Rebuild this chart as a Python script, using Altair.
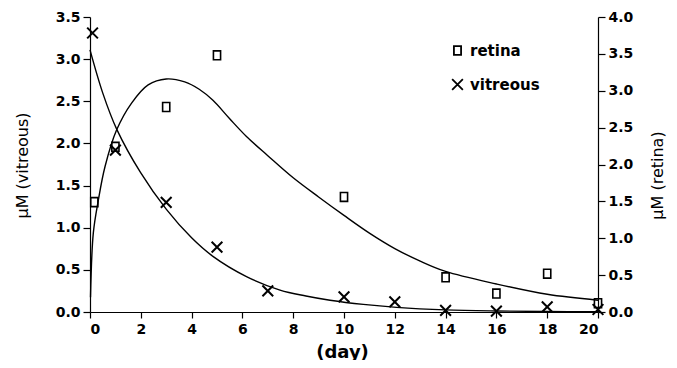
import altair as alt
import pandas as pd

# measured points
vit_days = [0.1, 1, 3, 5, 7, 10, 12, 14, 16, 18, 20]
vit_vals = [3.31, 1.92, 1.30, 0.77, 0.25, 0.18, 0.12, 0.02, 0.01, 0.06, 0.03]

ret_days = [0.17, 1, 3, 5, 10, 14, 16, 18, 20]
ret_vals = [1.49, 2.24, 2.78, 3.48, 1.56, 0.47, 0.25, 0.52, 0.12]

# fitted curves
vit_curve_days = [0, 0.5, 1.05, 2.0, 3.0, 4.0, 4.84, 6.16, 7.48, 8.5, 9.45, 10.76, 12.07, 14, 16, 18, 20]
vit_curve_vals = [3.11, 2.60, 2.17, 1.65, 1.22, 0.88, 0.66, 0.42, 0.26, 0.19, 0.14, 0.09, 0.055, 0.025, 0.012, 0.006, 0.003]

ret_curve_days = [0.02, 0.13, 0.33, 0.59, 1.05, 1.63, 2.29, 3.0, 3.73, 4.3, 4.84, 5.5, 6.16, 7, 8, 9, 10, 11, 12, 13, 14, 16, 18, 20]
ret_curve_vals = [0.2, 1.07, 1.52, 1.97, 2.47, 2.83, 3.08, 3.16, 3.12, 3.02, 2.87, 2.62, 2.38, 2.12, 1.82, 1.56, 1.31, 1.07, 0.86, 0.69, 0.55, 0.38, 0.24, 0.16]

x_ticks = list(range(0, 21, 2))
left_ticks = [0, 0.5, 1.0, 1.5, 2.0, 2.5, 3.0, 3.5]
right_ticks = [0, 0.5, 1.0, 1.5, 2.0, 2.5, 3.0, 3.5, 4.0]
series_names = ["retina", "vitreous"]

FONT = "DejaVu Sans"
SQ = "M-0.8,-1H0.8V1H-0.8Z"
XS = "M-1.2,-1.2L1.2,1.2M-1.2,1.2L1.2,-1.2"

vit_pts = pd.DataFrame({"day": vit_days, "val": vit_vals, "series": "vitreous"})
ret_pts = pd.DataFrame({"day": ret_days, "val": ret_vals, "series": "retina"})
vit_cur = pd.DataFrame({"day": vit_curve_days, "val": vit_curve_vals})
ret_cur = pd.DataFrame({"day": ret_curve_days, "val": ret_curve_vals})

xenc = alt.X("day:Q", scale=alt.Scale(domain=[0, 20], nice=False),
             axis=alt.Axis(values=x_ticks, title="(day)", titleFontWeight="bold",
                           titleFontSize=18, titleX=252, titleY=40, titleBaseline="middle",
                           tickSize=6, labelPadding=4))

y_left = alt.Y("val:Q", scale=alt.Scale(domain=[0, 3.5], nice=False),
               axis=alt.Axis(values=left_ticks, format=".1f", title="μM (vitreous)",
                             orient="left", titleX=-68, titleY=148, titleBaseline="middle",
                             titleAngle=-90))
y_right = alt.Y("val:Q", scale=alt.Scale(domain=[0, 4.0], nice=False),
                axis=alt.Axis(values=right_ticks, format=".1f", title="μM (retina)",
                              orient="right", titleX=59, titleY=158, titleBaseline="middle",
                              titleAngle=-90))

shape_enc = alt.Shape("series:N",
                      scale=alt.Scale(domain=series_names, range=[SQ, XS]),
                      legend=alt.Legend(title=None, orient="none", legendX=360, legendY=26,
                                        symbolSize=80, symbolStrokeWidth=1.8,
                                        symbolStrokeColor="black", symbolFillColor="white",
                                        labelFont=FONT, labelFontSize=15, labelFontWeight="bold",
                                        labelColor="black", labelOffset=5, rowPadding=16,
                                        padding=0))

vit_line = alt.Chart(vit_cur).mark_line(color="black", strokeWidth=1.4, interpolate="catmull-rom").encode(x=xenc, y=y_left)
vit_mark = alt.Chart(vit_pts).mark_point(filled=False, color="black", strokeWidth=2, size=80, opacity=1).encode(x=xenc, y=y_left, shape=shape_enc)
ret_line = alt.Chart(ret_cur).mark_line(color="black", strokeWidth=1.4, interpolate="catmull-rom").encode(x=xenc, y=y_right)
ret_mark = alt.Chart(ret_pts).mark_point(filled=False, color="black", strokeWidth=1.6, size=80, opacity=1).encode(x=xenc, y=y_right, shape=shape_enc)

left = alt.layer(vit_line, vit_mark)
right = alt.layer(ret_line, ret_mark)

chart = alt.layer(left, right).resolve_scale(y="independent").properties(
    width=508, height=295,
    autosize=alt.AutoSizeParams(type="none"),
    padding={"left": 82, "top": 9, "right": 71, "bottom": 48},
    background="white",
).configure_view(stroke=None).configure_axis(
    grid=False, domainColor="black", tickColor="black", domainWidth=1.2, tickWidth=1.2,
    tickSize=7, labelPadding=3, labelFont=FONT, labelFontSize=14, labelFontWeight="bold",
    labelColor="black", titleFont=FONT, titleFontSize=16, titleFontWeight="normal",
    titleColor="black",
)

chart.save("out.html", embed_options={"renderer": "svg", "actions": False})
